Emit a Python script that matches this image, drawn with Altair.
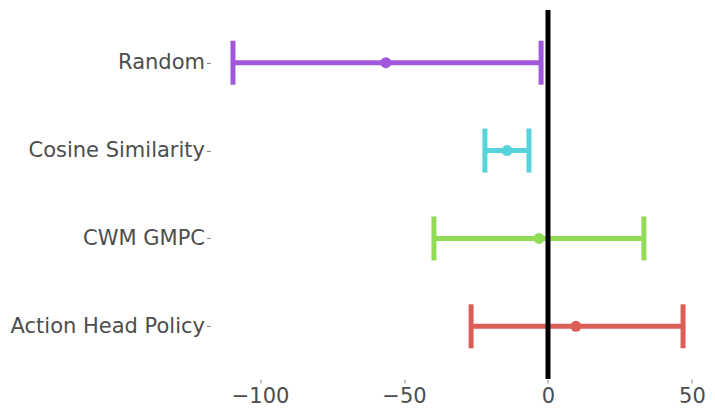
import altair as alt
import pandas as pd

categories = ["Random", "Cosine Similarity", "CWM GMPC", "Action Head Policy"]
centers = [-56.3, -14.2, -3.1, 9.7]
lows = [-109.4, -21.9, -39.6, -26.7]
highs = [-2.4, -6.6, 33.3, 46.9]
colors = ["#a157db", "#57d3db", "#91db57", "#db5f57"]
x_ticks = [-100, -50, 0, 50]

df = pd.DataFrame({"cat": categories, "mid": centers, "lo": lows, "hi": highs})

font = "DejaVu Sans"
yenc = alt.Y("cat:N", sort=categories,
             scale=alt.Scale(type="point", padding=0.6),
             axis=alt.Axis(title=None, domain=False, grid=False, tickSize=4,
                           tickColor="#888888", tickWidth=1, labelPadding=2,
                           labelLimit=400,
                           labelFontSize=21, labelColor="#4d4d4d", labelFont=font))
xscale = alt.Scale(domain=[-117.2, 54.7], nice=False, zero=False)
xaxis = alt.Axis(title=None, domain=False, grid=False, values=x_ticks, tickSize=4,
                 tickColor="#888888", labelPadding=2, labelFontSize=21,
                 labelColor="#4d4d4d", labelFont=font)
color = alt.Color("cat:N", scale=alt.Scale(domain=categories, range=colors), legend=None)

base = alt.Chart(df)
bars = base.mark_rule(strokeWidth=5).encode(
    x=alt.X("lo:Q", scale=xscale, axis=xaxis), x2="hi:Q", y=yenc, color=color)
cap_lo = base.mark_tick(size=44, thickness=5, opacity=1).encode(
    x=alt.X("lo:Q", scale=xscale), y=yenc, color=color)
cap_hi = base.mark_tick(size=44, thickness=5, opacity=1).encode(
    x=alt.X("hi:Q", scale=xscale), y=yenc, color=color)
pts = base.mark_circle(size=120, opacity=1).encode(
    x=alt.X("mid:Q", scale=xscale), y=yenc, color=color)
zero = alt.Chart(pd.DataFrame({"z": [0]})).mark_rule(color="black", strokeWidth=5).encode(
    x=alt.X("z:Q", scale=xscale))

chart = alt.layer(bars, cap_lo, cap_hi, pts, zero).properties(
    width=495, height=369,
    autosize=alt.AutoSizeParams(type="none"),
    padding={"left": 202.5, "top": 2, "right": 0, "bottom": 30},
).configure_view(stroke=None)

chart.save("out.html", embed_options={"renderer": "svg", "actions": False})
